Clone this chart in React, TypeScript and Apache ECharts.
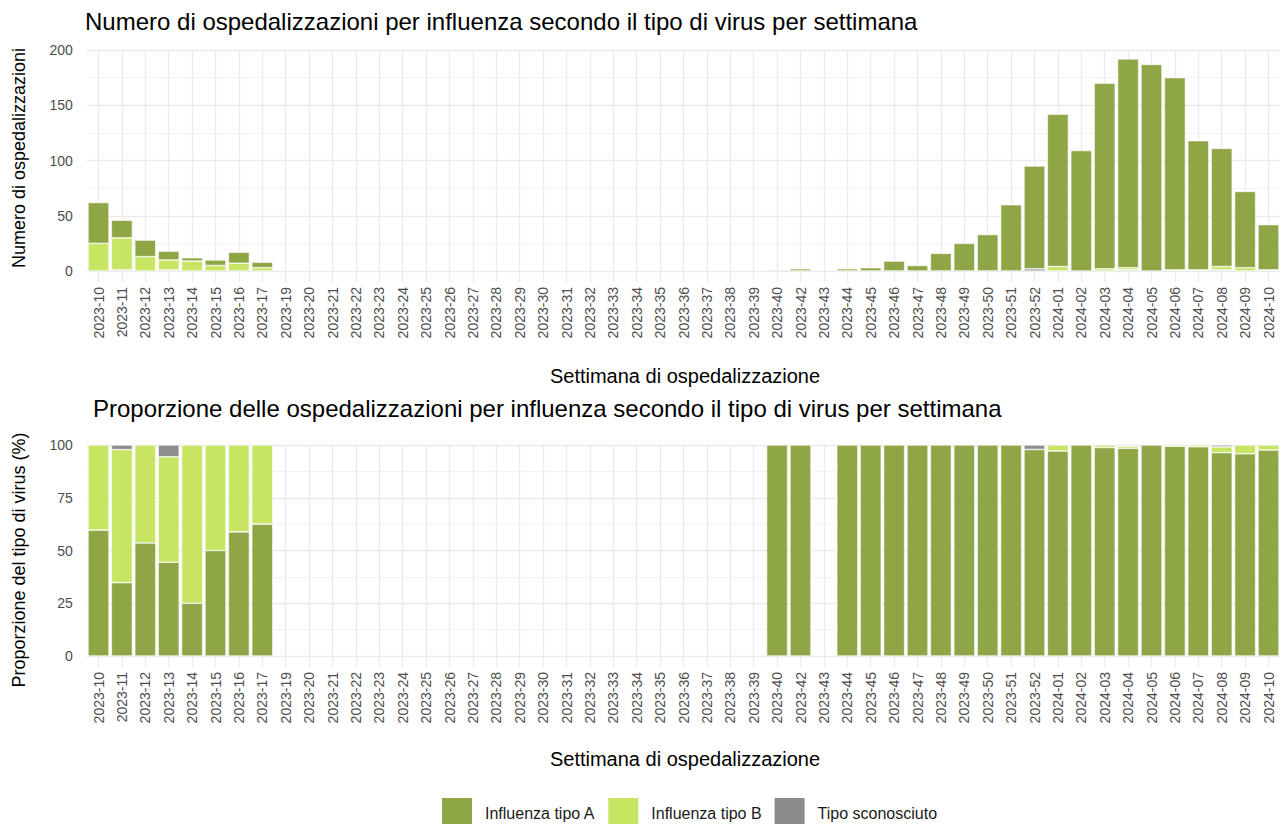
import React, { useEffect, useRef } from "react";
import * as echarts from "echarts";

const weeks = [
  "2023-10", "2023-11", "2023-12", "2023-13", "2023-14", "2023-15", "2023-16", "2023-17",
  "2023-19", "2023-20", "2023-21", "2023-22", "2023-23", "2023-24", "2023-25", "2023-26",
  "2023-27", "2023-28", "2023-29", "2023-30", "2023-31", "2023-32", "2023-33", "2023-34",
  "2023-35", "2023-36", "2023-37", "2023-38", "2023-39", "2023-40", "2023-42", "2023-43",
  "2023-44", "2023-45", "2023-46", "2023-47", "2023-48", "2023-49", "2023-50", "2023-51",
  "2023-52", "2024-01", "2024-02", "2024-03", "2024-04", "2024-05", "2024-06", "2024-07",
  "2024-08", "2024-09", "2024-10",
];

const countA = [
  37, 16, 15, 8, 3, 5, 10, 5,
  0, 0, 0, 0, 0, 0, 0, 0,
  0, 0, 0, 0, 0, 0, 0, 0,
  0, 0, 0, 0, 0, 1, 2, 0,
  2, 3, 9, 5, 16, 25, 33, 60,
  93, 138, 109, 168, 189, 187, 174, 117,
  107, 69, 41,
];

const countB = [
  25, 29, 13, 9, 9, 5, 7, 3,
  0, 0, 0, 0, 0, 0, 0, 0,
  0, 0, 0, 0, 0, 0, 0, 0,
  0, 0, 0, 0, 0, 0, 0, 0,
  0, 0, 0, 0, 0, 0, 0, 0,
  0, 4, 0, 2, 2, 0, 1, 1,
  3, 3, 1,
];

const countU = [
  0, 1, 0, 1, 0, 0, 0, 0,
  0, 0, 0, 0, 0, 0, 0, 0,
  0, 0, 0, 0, 0, 0, 0, 0,
  0, 0, 0, 0, 0, 0, 0, 0,
  0, 0, 0, 0, 0, 0, 0, 0,
  2, 0, 0, 0, 1, 0, 0, 0,
  1, 0, 0,
];

const NAME_A = "Influenza tipo A";
const NAME_B = "Influenza tipo B";
const NAME_U = "Tipo sconosciuto";

const TITLE_TOP = "Numero di ospedalizzazioni per influenza secondo il tipo di virus per settimana";
const TITLE_BOTTOM = "Proporzione delle ospedalizzazioni per influenza secondo il tipo di virus per settimana";
const Y_TITLE_TOP = "Numero di ospedalizzazioni";
const Y_TITLE_BOTTOM = "Proporzione del tipo di virus (%)";
const X_TITLE = "Settimana di ospedalizzazione";

const COLOR_A = "#8fa647";
const COLOR_B = "#c5e563";
const COLOR_U = "#8c8c8c";

const FONT = "'Liberation Sans', Arial, Helvetica, sans-serif";

const totals = weeks.map((_, i) => countA[i] + countB[i] + countU[i]);
const pct = (arr: number[]) =>
  arr.map((v, i) => (totals[i] > 0 && v > 0 ? (v / totals[i]) * 100 : null));
const nonZero = (arr: number[]) => arr.map((v) => (v > 0 ? v : null));

export default function App() {
  const ref = useRef<HTMLDivElement>(null);

  useEffect(() => {
    if (!ref.current) return;
    const chart = echarts.init(ref.current, null, { renderer: "svg" });

    const gridLeft = 86.8;
    const gridWidth = 1193.4;

    const xAxisBase = (gridIndex: number) => ({
      type: "category",
      gridIndex,
      data: weeks,
      boundaryGap: true,
      axisLine: { show: false },
      axisTick: {
        show: true,
        alignWithLabel: true,
        length: 11,
        lineStyle: { color: "#ebebeb", width: 1.4 },
      },
      splitLine: {
        show: true,
        alignWithLabel: true,
        interval: 0,
        lineStyle: { color: "#ebebeb", width: 1.4 },
      },
      axisLabel: {
        rotate: 90,
        interval: 0,
        fontSize: 14,
        color: "#4d4d4d",
        fontFamily: FONT,
        margin: 16,
      },
    });

    const yAxisBase = (gridIndex: number, max: number, interval: number) => ({
      type: "value",
      gridIndex,
      min: 0,
      max,
      interval,
      axisLine: { show: false },
      axisTick: { show: false },
      axisLabel: { fontSize: 14, color: "#4d4d4d", fontFamily: FONT, margin: 14 },
      splitLine: { show: true, lineStyle: { color: "#ebebeb", width: 1.4 } },
      minorTick: { show: false, splitNumber: 2 },
      minorSplitLine: { show: true, lineStyle: { color: "#f0f0f0", width: 0.8 } },
    });

    const barStyle = (color: string) => ({
      color,
      borderColor: "#ffffff",
      borderWidth: 0.6,
    });

    const barSeries = (
      name: string,
      data: (number | null)[],
      color: string,
      axisIndex: number,
      stack: string
    ) => ({
      name,
      type: "bar",
      xAxisIndex: axisIndex,
      yAxisIndex: axisIndex,
      stack,
      data,
      barCategoryGap: "10%",
      itemStyle: barStyle(color),
      emphasis: { disabled: true },
    });

    chart.setOption({
      animation: false,
      backgroundColor: "#ffffff",
      textStyle: { fontFamily: FONT },
      grid: [
        { left: gridLeft, width: gridWidth, top: 50, height: 221 },
        { left: gridLeft, width: gridWidth, top: 445, height: 211 },
      ],
      xAxis: [xAxisBase(0), xAxisBase(1)],
      yAxis: [yAxisBase(0, 200, 50), yAxisBase(1, 100, 25)],
      legend: {
        data: [NAME_A, NAME_B, NAME_U],
        left: 440,
        top: 796,
        padding: 0,
        icon: "rect",
        itemWidth: 32,
        itemHeight: 32,
        itemGap: 11,
        selectedMode: false,
        textStyle: {
          fontSize: 16,
          color: "#1a1a1a",
          fontFamily: FONT,
          padding: [0, 0, 0, 7],
        },
      },
      graphic: [
        {
          type: "text",
          left: 85,
          top: 9,
          style: { text: TITLE_TOP, font: `24px ${FONT}`, fill: "#000000" },
        },
        {
          type: "text",
          left: 93,
          top: 396,
          style: { text: TITLE_BOTTOM, font: `24px ${FONT}`, fill: "#000000" },
        },
        {
          type: "text",
          x: 19,
          y: 158,
          rotation: Math.PI / 2,
          style: {
            text: Y_TITLE_TOP,
            font: `18px ${FONT}`,
            fill: "#000000",
            align: "center",
            verticalAlign: "middle",
          },
        },
        {
          type: "text",
          x: 19,
          y: 560,
          rotation: Math.PI / 2,
          style: {
            text: Y_TITLE_BOTTOM,
            font: `18px ${FONT}`,
            fill: "#000000",
            align: "center",
            verticalAlign: "middle",
          },
        },
        {
          type: "text",
          x: 685,
          y: 376,
          style: {
            text: X_TITLE,
            font: `20px ${FONT}`,
            fill: "#000000",
            align: "center",
            verticalAlign: "middle",
          },
        },
        {
          type: "text",
          x: 685,
          y: 759,
          style: {
            text: X_TITLE,
            font: `20px ${FONT}`,
            fill: "#000000",
            align: "center",
            verticalAlign: "middle",
          },
        },
      ],
      series: [
        barSeries(NAME_U, nonZero(countU), COLOR_U, 0, "count"),
        barSeries(NAME_B, nonZero(countB), COLOR_B, 0, "count"),
        barSeries(NAME_A, nonZero(countA), COLOR_A, 0, "count"),
        barSeries(NAME_A, pct(countA), COLOR_A, 1, "prop"),
        barSeries(NAME_B, pct(countB), COLOR_B, 1, "prop"),
        barSeries(NAME_U, pct(countU), COLOR_U, 1, "prop"),
      ],
    });

    return () => chart.dispose();
  }, []);

  return (
    <div
      ref={ref}
      style={{ position: "fixed", left: 0, top: 0, width: 1282, height: 824 }}
    />
  );
}
